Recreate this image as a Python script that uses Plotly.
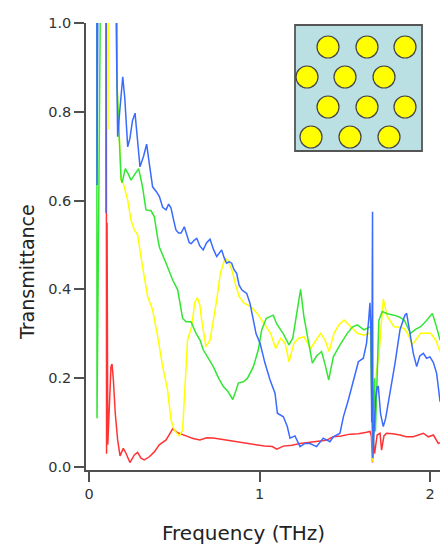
import plotly.graph_objects as go

# ---------------- data ----------------
blue_x = [0.040, 0.047, 0.048, 0.098, 0.100, 0.101, 0.153, 0.168, 0.180, 0.198, 0.210, 0.227, 0.240, 0.255,
          0.270, 0.285, 0.299, 0.320, 0.338, 0.355, 0.373, 0.395, 0.413, 0.432, 0.452, 0.467, 0.481, 0.497,
          0.510, 0.525, 0.540, 0.559, 0.575, 0.588, 0.600, 0.615, 0.632, 0.650, 0.670, 0.690, 0.710, 0.730,
          0.749, 0.765, 0.778, 0.792, 0.807, 0.822, 0.837, 0.850, 0.866, 0.880, 0.896, 0.910, 0.925, 0.944,
          0.964, 0.980, 1.003, 1.032, 1.062, 1.091, 1.105, 1.140, 1.163, 1.179, 1.208, 1.238, 1.267, 1.296,
          1.335, 1.374, 1.413, 1.433, 1.472, 1.492, 1.521, 1.550, 1.580, 1.609, 1.628, 1.640, 1.648, 1.654,
          1.658, 1.661, 1.663, 1.665, 1.672, 1.680, 1.690, 1.697, 1.710, 1.726, 1.740, 1.755, 1.795, 1.824,
          1.853, 1.863, 1.883, 1.902, 1.922, 1.940, 1.961, 1.980, 2.000, 2.020, 2.039, 2.059, 2.078, 2.098, 2.110]
blue_y = [5.0, 0.635, 5.0, 5.0, 0.572, 5.0, 1.2, 0.744, 0.80, 0.879, 0.83, 0.721, 0.74, 0.78,
          0.797, 0.74, 0.676, 0.70, 0.727, 0.68, 0.631, 0.62, 0.609, 0.585, 0.579, 0.592, 0.583, 0.555,
          0.534, 0.527, 0.527, 0.541, 0.52, 0.505, 0.503, 0.51, 0.515, 0.498, 0.489, 0.505, 0.513, 0.49,
          0.474, 0.483, 0.489, 0.472, 0.459, 0.462, 0.459, 0.445, 0.436, 0.41, 0.399, 0.395, 0.391, 0.369,
          0.331, 0.30, 0.279, 0.234, 0.196, 0.166, 0.121, 0.113, 0.091, 0.065, 0.070, 0.046, 0.053, 0.053,
          0.046, 0.065, 0.057, 0.068, 0.076, 0.113, 0.151, 0.196, 0.237, 0.245, 0.279, 0.33, 0.37, 0.30,
          0.10, 0.40, 0.575, 0.02, 0.08, 0.15, 0.18, 0.181, 0.12, 0.091, 0.11, 0.143, 0.234, 0.309,
          0.342, 0.346, 0.301, 0.256, 0.226, 0.25, 0.256, 0.245, 0.248, 0.235, 0.211, 0.147, 0.166, 0.196, 0.21]

green_x = [0.040, 0.047, 0.048, 0.150, 0.165, 0.178, 0.188, 0.194, 0.213, 0.230, 0.246, 0.270, 0.291, 0.314,
           0.334, 0.364, 0.383, 0.403, 0.413, 0.452, 0.491, 0.520, 0.549, 0.569, 0.598, 0.628, 0.651, 0.670,
           0.700, 0.729, 0.760, 0.788, 0.815, 0.843, 0.860, 0.876, 0.905, 0.930, 0.964, 0.993, 1.013, 1.040,
           1.081, 1.101, 1.140, 1.173, 1.195, 1.215, 1.241, 1.260, 1.286, 1.310, 1.335, 1.364, 1.385, 1.406,
           1.433, 1.472, 1.515, 1.545, 1.574, 1.613, 1.652, 1.658, 1.662, 1.668, 1.675, 1.680, 1.690, 1.700,
           1.720, 1.750, 1.789, 1.820, 1.850, 1.886, 1.915, 1.945, 1.980, 2.014, 2.035, 2.059, 2.075, 2.092, 2.110]
green_y = [5.0, 0.11, 5.0, 5.0, 0.85, 0.73, 0.65, 0.640, 0.672, 0.66, 0.646, 0.66, 0.672, 0.631,
           0.579, 0.577, 0.564, 0.515, 0.495, 0.459, 0.421, 0.399, 0.335, 0.327, 0.327, 0.301, 0.286, 0.264,
           0.245, 0.226, 0.20, 0.181, 0.17, 0.152, 0.17, 0.189, 0.192, 0.20, 0.226, 0.264, 0.309, 0.335,
           0.342, 0.322, 0.300, 0.275, 0.29, 0.34, 0.400, 0.34, 0.28, 0.234, 0.250, 0.260, 0.23, 0.196,
           0.248, 0.275, 0.301, 0.315, 0.320, 0.309, 0.316, 0.15, 0.05, 0.15, 0.20, 0.08, 0.20, 0.33,
           0.350, 0.345, 0.342, 0.338, 0.33, 0.301, 0.31, 0.316, 0.33, 0.346, 0.32, 0.286, 0.30, 0.331, 0.335]

yellow_x = [0.100, 0.111, 0.112, 0.150, 0.163, 0.170, 0.178, 0.188, 0.201, 0.227, 0.246, 0.266, 0.285, 0.295,
            0.314, 0.344, 0.373, 0.403, 0.432, 0.461, 0.481, 0.500, 0.530, 0.549, 0.565, 0.578, 0.602, 0.620,
            0.635, 0.650, 0.661, 0.686, 0.710, 0.730, 0.749, 0.770, 0.798, 0.815, 0.837, 0.860, 0.880, 0.909,
            0.948, 0.987, 1.026, 1.065, 1.095, 1.124, 1.150, 1.173, 1.202, 1.230, 1.261, 1.300, 1.330, 1.359,
            1.385, 1.408, 1.437, 1.465, 1.496, 1.535, 1.574, 1.613, 1.642, 1.652, 1.658, 1.665, 1.672, 1.680,
            1.700, 1.715, 1.726, 1.750, 1.789, 1.820, 1.848, 1.870, 1.896, 1.945, 2.004, 2.035, 2.059, 2.080, 2.110]
yellow_y = [5.0, 0.76, 5.0, 5.0, 0.88, 0.80, 0.736, 0.646, 0.639, 0.601, 0.556, 0.534, 0.523, 0.495,
            0.451, 0.384, 0.354, 0.293, 0.226, 0.173, 0.106, 0.083, 0.070, 0.083, 0.211, 0.286, 0.316, 0.37,
            0.381, 0.365, 0.330, 0.271, 0.286, 0.33, 0.376, 0.436, 0.470, 0.465, 0.445, 0.41, 0.384, 0.369,
            0.361, 0.346, 0.324, 0.301, 0.267, 0.290, 0.279, 0.237, 0.279, 0.29, 0.293, 0.267, 0.285, 0.301,
            0.285, 0.260, 0.301, 0.32, 0.331, 0.316, 0.301, 0.297, 0.301, 0.30, 0.15, 0.012, 0.10, 0.20,
            0.25, 0.33, 0.378, 0.339, 0.316, 0.315, 0.312, 0.30, 0.275, 0.301, 0.301, 0.285, 0.260, 0.28, 0.305]

red_x = [0.095, 0.103, 0.106, 0.110, 0.120, 0.129, 0.135, 0.143, 0.154, 0.168, 0.182, 0.201, 0.217, 0.240,
         0.266, 0.285, 0.305, 0.324, 0.354, 0.383, 0.412, 0.452, 0.491, 0.520, 0.569, 0.610, 0.651, 0.690,
         0.729, 0.780, 0.846, 0.900, 0.964, 1.030, 1.075, 1.101, 1.140, 1.190, 1.238, 1.290, 1.335, 1.390,
         1.433, 1.480, 1.531, 1.580, 1.628, 1.648, 1.656, 1.663, 1.668, 1.675, 1.690, 1.707, 1.716, 1.730,
         1.745, 1.780, 1.824, 1.860, 1.902, 1.930, 1.961, 1.990, 2.020, 2.049, 2.075, 2.098, 2.110]
red_y = [5.0, 0.03, 0.55, 0.05, 0.15, 0.226, 0.232, 0.196, 0.121, 0.061, 0.025, 0.042, 0.031, 0.010,
         0.027, 0.033, 0.020, 0.016, 0.023, 0.034, 0.050, 0.061, 0.086, 0.077, 0.070, 0.064, 0.061, 0.066,
         0.065, 0.062, 0.057, 0.054, 0.050, 0.047, 0.046, 0.040, 0.047, 0.049, 0.053, 0.055, 0.057, 0.060,
         0.068, 0.070, 0.074, 0.075, 0.078, 0.080, 0.07, 0.01, 0.06, 0.03, 0.072, 0.076, 0.038, 0.07,
         0.076, 0.075, 0.072, 0.068, 0.068, 0.072, 0.076, 0.068, 0.072, 0.053, 0.058, 0.062, 0.063]

x_ticks = [0, 1, 2]
y_ticks = [0.0, 0.2, 0.4, 0.6, 0.8, 1.0]

# ---------------- figure ----------------
OFF = 8                      # page body margin in the browser
W, H = 448 - OFF, 546 - OFF
ML, MR, MT, MB = 86 - OFF, 0, 23 - OFF, 76
PW, PH = W - ML - MR, H - MT - MB

def pxx(p):                  # page pixel -> paper x
    return (p - OFF - ML) / PW

def pxy(p):                  # page pixel -> paper y
    return (OFF + H - MB - p) / PH

fig = go.Figure()
series = [
    ("red", red_x, red_y, "#ff3333"),
    ("yellow", yellow_x, yellow_y, "#ffff00"),
    ("green", green_x, green_y, "#33e633"),
    ("blue", blue_x, blue_y, "#3a6bff"),
]
for name, xs, ys, col in series:
    fig.add_trace(go.Scatter(x=xs, y=ys, mode="lines", name=name,
                             line=dict(color=col, width=1.5), hoverinfo="skip"))

axis_col = "#505050"
font_fam = "DejaVu Sans"
fig.update_layout(
    width=W, height=H, autosize=False,
    margin=dict(l=ML, r=MR, t=MT, b=MB, pad=0),
    paper_bgcolor="white", plot_bgcolor="white",
    showlegend=False,
    xaxis=dict(range=[-0.0176, 2.1056], tickvals=x_ticks, ticks="outside", ticklen=10,
               tickwidth=1.5, tickcolor=axis_col, showline=True, linecolor=axis_col, linewidth=1.5,
               showgrid=False, zeroline=False, tickfont=dict(family=font_fam, size=14.5, color="#333333")),
    yaxis=dict(range=[-0.0068, 1.0], tickvals=y_ticks, tickformat=".1f", ticks="outside", ticklen=10,
               tickwidth=1.5, tickcolor=axis_col, showline=True, linecolor=axis_col, linewidth=1.5,
               showgrid=False, zeroline=False, tickfont=dict(family=font_fam, size=14.5, color="#333333")),
    annotations=[
        dict(text="Frequency (THz)", xref="paper", yref="paper", x=pxx(243), y=pxy(533),
             xanchor="center", yanchor="middle", showarrow=False,
             font=dict(family=font_fam, size=20, color="#222222")),
        dict(text="Transmittance", xref="paper", yref="paper", x=pxx(27), y=pxy(272),
             xanchor="center", yanchor="middle", showarrow=False, textangle=-90,
             font=dict(family=font_fam, size=19, color="#222222")),
    ],
)

# inset: unit-cell sketch
shapes = [dict(type="rect", xref="paper", yref="paper", x0=pxx(295), x1=pxx(422), y0=pxy(151), y1=pxy(25),
               fillcolor="#bae0e4", line=dict(color="#555555", width=1.8), layer="above")]
centers = [(328, 47), (367, 47), (405, 47),
           (307, 77), (345, 77), (384, 77),
           (328, 107), (367, 107), (405, 107),
           (311, 137), (350, 137), (389, 137)]
r = 11
for cx, cy in centers:
    shapes.append(dict(type="circle", xref="paper", yref="paper",
                       x0=pxx(cx - r), x1=pxx(cx + r), y0=pxy(cy + r), y1=pxy(cy - r),
                       fillcolor="#ffff00", line=dict(color="#444444", width=1.2), layer="above"))
fig.update_layout(shapes=shapes)

fig.write_html("out.html")
